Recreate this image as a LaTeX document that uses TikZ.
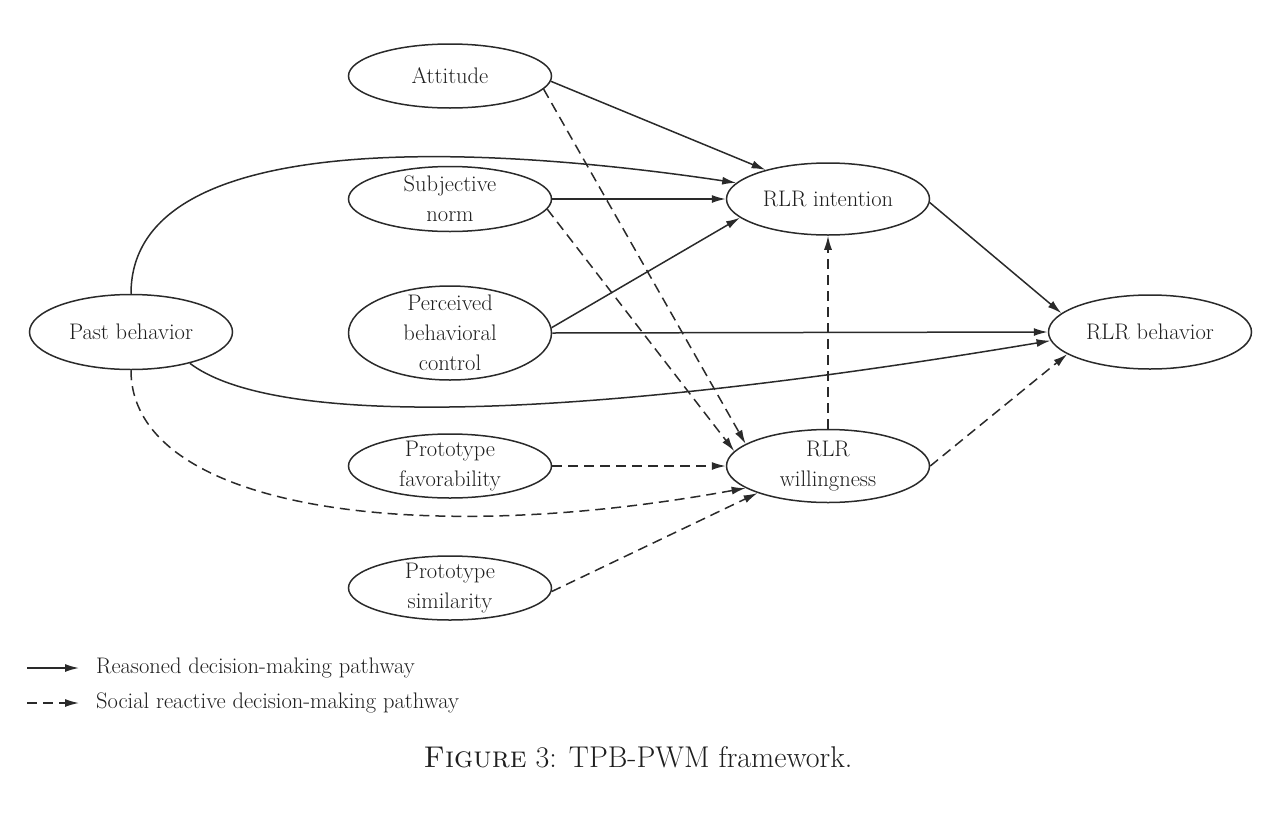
\documentclass[tikz,border=0pt]{standalone}
\usepackage{fontspec}
\usetikzlibrary{shapes.geometric,arrows.meta}
\definecolor{ink}{HTML}{2A2A2A}
\definecolor{txt}{HTML}{1E1E1E}
\begin{document}
\begin{tikzpicture}[x=1pt,y=-1pt,
  ell/.style={ellipse, draw=ink, line width=1.5pt, inner sep=0pt, minimum width=203pt, minimum height=64pt},
  lbl/.style={align=center, text=txt, font=\fontsize{22.5}{30}\selectfont, inner sep=0pt},
  conn/.style={draw=ink, line width=1.5pt, -{Latex[length=14pt,width=8pt]}},
  dsh/.style={conn, dash pattern=on 10pt off 6pt}
]
\useasboundingbox (0,0) rectangle (1271,817);
% nodes
\node[ell, label={[lbl]center:Attitude}] (att) at (450,76) {};
\node[ell, minimum height=65pt, label={[lbl]center:Subjective\\norm}] (sn) at (450,199) {};
\node[ell, minimum height=94pt, label={[lbl]center:Perceived\\behavioral\\control}] (pbc) at (450,333) {};
\node[ell, label={[lbl]center:Prototype\\favorability}] (pf) at (450,466) {};
\node[ell, label={[lbl]center:Prototype\\similarity}] (ps) at (450,588) {};
\node[ell, minimum height=75pt, label={[lbl]center:Past behavior}] (pb) at (131,332) {};
\node[ell, minimum height=72pt, label={[lbl]center:RLR intention}] (int) at (828,199) {};
\node[ell, minimum height=73pt, label={[lbl]center:RLR\\willingness}] (will) at (828,466) {};
\node[ell, minimum height=74pt, label={[lbl]center:RLR behavior}] (beh) at (1150,332) {};
% solid connectors
\draw[conn] (att.-3) -- (int.155);
\draw[conn] (pb.north) .. controls +(0,-180) and +(-200,-30) .. (int.170);
\draw[conn] (sn.east) -- (int.west);
\draw[conn] (pbc.3) -- (int.192);
\draw[conn] (pbc.east) -- (beh.west);
\draw[conn] (pb.-28) .. controls +(75,57) and +(-532,89) .. (beh.185);
\draw[conn] (int.-2) -- (beh.168);
% dashed connectors
\draw[dsh] (att.-8) -- (will.165);
\draw[dsh] (sn.-6) -- (will.171);
\draw[dsh] (pf.east) -- (will.west);
\draw[dsh] (pb.south) .. controls +(0,135) and +(-340,62) .. (will.195);
\draw[dsh] (ps.-2) -- (will.201);
\draw[dsh] (will.north) -- (int.south);
\draw[dsh] (will.east) -- (beh.195);
% legend
\coordinate (l1a) at (27,668);
\coordinate (l1b) at (79,668);
\coordinate (l2a) at (27,703);
\coordinate (l2b) at (79,703);
\draw[conn] (l1a) -- (l1b);
\draw[dsh] (l2a) -- (l2b);
\node[lbl, anchor=west] (t1) at (96,668) {Reasoned decision-making pathway};
\node[lbl, anchor=west] (t2) at (96,703) {Social reactive decision-making pathway};
% caption
\node[text=txt, font=\fontsize{30}{34}\selectfont, inner sep=0pt] (cap) at (638,757) {\textsc{Figure} 3: TPB-PWM framework.};
\end{tikzpicture}
\end{document}
